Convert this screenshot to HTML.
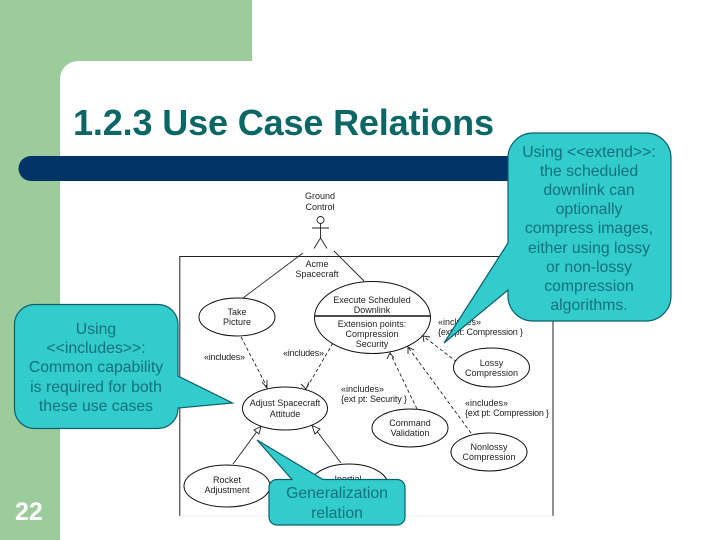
<!DOCTYPE html>
<html>
<head>
<meta charset="utf-8">
<style>
html,body{margin:0;padding:0;background:#fff;}
svg{display:block;}
text{font-family:"Liberation Sans",sans-serif;}
.d{font-size:9px;fill:#222;text-anchor:middle;}
.l{font-size:9px;fill:#222;}
.c{font-size:15.8px;fill:#14707c;text-anchor:middle;}
.e{fill:#fff;stroke:#111;stroke-width:1;}
.s{stroke:#222;stroke-width:.9;fill:none;}
.da{stroke:#222;stroke-width:.9;fill:none;stroke-dasharray:3.5 2.5;}
.h{stroke:#222;stroke-width:.9;fill:none;}
</style>
</head>
<body>
<svg width="720" height="540" viewBox="0 0 720 540" xmlns="http://www.w3.org/2000/svg">
<rect width="720" height="540" fill="#fff"/>
<path d="M0 0H252V61H78A18 18 0 0 0 60 79V540H0Z" fill="#9ccc9c"/>
<path d="M31 156H515V181H31A12.500 12.500 0 0 1 31 156Z" fill="#003366"/>
<text x="73" y="135" font-size="36" font-weight="bold" fill="#0b6666" textLength="421" lengthAdjust="spacing">1.2.3 Use Case Relations</text>
<text x="15" y="520" font-size="25" font-weight="bold" fill="#fff">22</text>

<!-- frame -->
<path d="M180 256.500H510M179.800 256V516M553 320V516" stroke="#222" stroke-width="1" fill="none"/>
<path d="M180 516H553" stroke="#eee" stroke-width="1"/>

<!-- actor -->
<text class="d" x="320" y="199">Ground</text>
<text class="d" x="320" y="210">Control</text>
<circle cx="320.500" cy="220" r="3.500" fill="#fff" stroke="#222" stroke-width=".9"/>
<path class="s" d="M320.500 223.500V238M312 228H329M320.500 238L314 248.500M320.500 238L327 248.500"/>
<text class="d" x="317" y="267">Acme</text>
<text class="d" x="317" y="277">Spacecraft</text>

<!-- associations -->
<path class="s" d="M303 253L243 298M334 251L364 281"/>

<!-- dashed -->
<path class="da" d="M241 337L267 387"/>
<path class="da" d="M333 343L306 389"/>
<path class="da" d="M417 409L390 353"/>
<path class="da" d="M471 433L408 347"/>
<path class="da" d="M457 362L423 336"/>
<path class="h" d="M262 382L267 388L267 380M301 384L306 389L309 382M387 359L390 353L394 358M408 354L408 347L414 350M424 342L423 336L430 337"/>

<!-- generalization -->
<path class="s" d="M233 464L258 430"/>
<path class="s" d="M341 463L316 430"/>
<path d="M261 426.500L259 434L254 430ZM312 425.500L320 429L315 434Z" fill="#fff" stroke="#222" stroke-width=".9"/>

<!-- use cases -->
<ellipse class="e" cx="237" cy="317" rx="38" ry="19"/>
<text class="d" x="237" y="315">Take</text>
<text class="d" x="237" y="325">Picture</text>

<ellipse class="e" cx="372.500" cy="317.500" rx="58" ry="36"/>
<path d="M314.500 316H430.500" stroke="#111" stroke-width="1.500"/>
<text class="d" x="372" y="303">Execute Scheduled</text>
<text class="d" x="372" y="313">Downlink</text>
<text class="d" x="372" y="327">Extension points:</text>
<text class="d" x="372" y="337">Compression</text>
<text class="d" x="372" y="347">Security</text>

<ellipse class="e" cx="491.500" cy="367.500" rx="38" ry="19.500"/>
<text class="d" x="491.500" y="366">Lossy</text>
<text class="d" x="491.500" y="376">Compression</text>

<ellipse class="e" cx="285" cy="408.500" rx="42.500" ry="21.500"/>
<text class="d" x="285" y="406">Adjust Spacecraft</text>
<text class="d" x="285" y="417">Attitude</text>

<ellipse class="e" cx="410" cy="428" rx="38" ry="19"/>
<text class="d" x="410" y="426">Command</text>
<text class="d" x="410" y="436">Validation</text>

<ellipse class="e" cx="489" cy="452" rx="38" ry="19"/>
<text class="d" x="489" y="450">Nonlossy</text>
<text class="d" x="489" y="460">Compression</text>

<ellipse class="e" cx="227" cy="486" rx="43" ry="21"/>
<text class="d" x="227" y="483">Rocket</text>
<text class="d" x="227" y="493">Adjustment</text>

<ellipse class="e" cx="349" cy="485" rx="39" ry="21"/>
<text class="d" x="348" y="482">Inertial</text>

<!-- labels -->
<text class="l" x="204" y="360" textLength="41">«includes»</text>
<text class="l" x="283" y="356" textLength="41">«includes»</text>
<text class="l" x="341" y="392">«includes»</text>
<text class="l" x="341" y="402" textLength="66">{ext pt: Security }</text>
<text class="l" x="438" y="325">«includes»</text>
<text class="l" x="438" y="335" textLength="85">{ext pt: Compression }</text>
<text class="l" x="465" y="406">«includes»</text>
<text class="l" x="465" y="416" textLength="84">{ext pt: Compression }</text>

<!-- right callout -->
<path d="M533 133H646A25 25 0 0 1 671 158V296A25 25 0 0 1 646 321H533A25 25 0 0 1 508 296V290L444 343L508 243V158A25 25 0 0 1 533 133Z" fill="#33cccc" stroke="#0b5f6b" stroke-width="1.200"/>
<text class="c" x="589" y="157">Using &lt;&lt;extend&gt;&gt;:</text>
<text class="c" x="589" y="176">the scheduled</text>
<text class="c" x="589" y="195">downlink can</text>
<text class="c" x="589" y="214">optionally</text>
<text class="c" x="589" y="233">compress images,</text>
<text class="c" x="589" y="253">either using lossy</text>
<text class="c" x="589" y="272">or non-lossy</text>
<text class="c" x="589" y="291">compression</text>
<text class="c" x="589" y="310">algorithms.</text>

<!-- left callout -->
<path d="M34 304.500H158A20 20 0 0 1 178 324.500V376L232.500 403L178 408A20 20 0 0 1 158 428.500H34A20 20 0 0 1 14.500 408V324.500A20 20 0 0 1 34 304.500Z" fill="#33cccc" stroke="#0b5f6b" stroke-width="1.200"/>
<text class="c" x="96" y="334">Using</text>
<text class="c" x="96" y="353">&lt;&lt;includes&gt;&gt;:</text>
<text class="c" x="96" y="372">Common capability</text>
<text class="c" x="96" y="392">is required for both</text>
<text class="c" x="96" y="411">these use cases</text>

<!-- bottom callout -->
<path d="M277 479.500H292L257 440L323 479.500H397A8 8 0 0 1 405 487.500V517A8 8 0 0 1 397 525H277A8 8 0 0 1 269 517V487.500A8 8 0 0 1 277 479.500Z" fill="#33cccc" stroke="#0b5f6b" stroke-width="1.200"/>
<text class="c" x="337" y="498">Generalization</text>
<text class="c" x="337" y="518">relation</text>
</svg>
</body>
</html>
